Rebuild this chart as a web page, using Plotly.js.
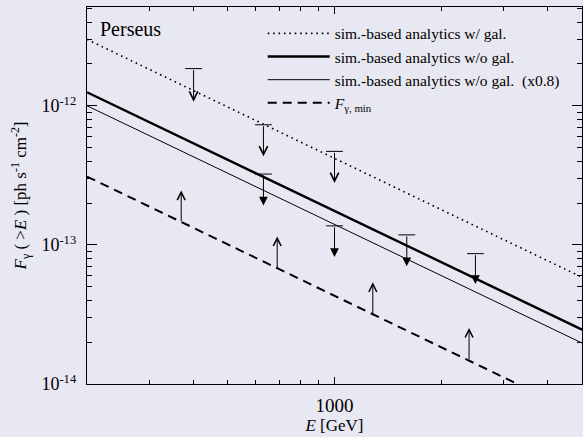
<!DOCTYPE html>
<html><head><meta charset="utf-8">
<script src="https://cdn.plot.ly/plotly-3.0.1.min.js"></script>
<style>html,body{margin:0;padding:0;background:#e8e8f2}</style>
</head><body><div id="chart" style="width:583px;height:437px"></div>
<script>
// ---- data ----
const energyRange = [200, 5000];          // GeV
const fluxLogRange = [-14, -11.29];       // log10 flux
const lineEnergies = [200, 5000];
const fluxWithGal = [3.0e-12, 5.85e-14];
const fluxWithoutGal = [1.25e-12, 2.46e-14];
const fluxWithoutGal08 = [1.0e-12, 1.97e-14];
const fluxMin = [3.10e-13, 5.98e-15];
const seriesNames = [
  'sim.-based analytics w/ gal.',
  'sim.-based analytics w/o gal.',
  'sim.-based analytics w/o gal.  (x0.8)',
  '<i>F</i><sub>γ, min</sub>'
];

const openUpperE = [400, 630, 1000];
const openUpperTop = [1.85e-12, 7.30e-13, 4.70e-13];
const openUpperTip = [1.07e-12, 4.33e-13, 2.79e-13];

const filledUpperE = [630, 1000, 1600, 2500];
const filledUpperTop = [3.23e-13, 1.37e-13, 1.18e-13, 8.65e-14];
const filledUpperTip = [1.92e-13, 8.18e-14, 7.02e-14, 5.24e-14];

const lowerE = [369, 689, 1283, 2399];
const lowerBase = [1.44e-13, 6.64e-14, 3.12e-14, 1.47e-14];
const lowerTip = [2.46e-13, 1.15e-13, 5.38e-14, 2.53e-14];

const yTickVals = [1e-14, 1e-13, 1e-12];
const yTickText = ['10<sup>-14</sup>', '10<sup>-13</sup>', '10<sup>-12</sup>'];
const yMinorVals = [2e-14,3e-14,4e-14,5e-14,6e-14,7e-14,8e-14,9e-14,
                    2e-13,3e-13,4e-13,5e-13,6e-13,7e-13,8e-13,9e-13,
                    2e-12,3e-12,4e-12,5e-12];
const xTickVals = [1000];
const xTickText = ['1000'];
const xMinorVals = [300,400,500,600,700,800,900,2000,3000,4000];

// ---- chart ----
const SERIF = 'Liberation Serif, Times New Roman, serif';
const BG = '#e8e8f2';

const traces = [
  {x: lineEnergies, y: fluxWithGal, name: seriesNames[0], mode: 'lines',
   line: {color: '#000', width: 1.6, dash: '1.6px,3.8px'}},
  {x: lineEnergies, y: fluxWithoutGal, name: seriesNames[1], mode: 'lines',
   line: {color: '#000', width: 2.4}},
  {x: lineEnergies, y: fluxWithoutGal08, name: seriesNames[2], mode: 'lines',
   line: {color: '#000', width: 1}},
  {x: lineEnergies, y: fluxMin, name: seriesNames[3], mode: 'lines',
   line: {color: '#000', width: 2, dash: '9px,6px'}},
  {x: openUpperE.concat(filledUpperE), y: openUpperTop.concat(filledUpperTop),
   mode: 'markers', showlegend: false, hoverinfo: 'skip',
   marker: {symbol: 'line-ew', size: 12, color: '#000', line: {color: '#000', width: 1}}}
];

// limit arrows: drawn by annotation arrows from the limit value to the tip
function arrow(E, from, to, head, size) {
  return {x: Math.log10(E), y: Math.log10(to), ax: Math.log10(E), ay: Math.log10(from),
    xref: 'x', yref: 'y', axref: 'x', ayref: 'y', text: '', showarrow: true,
    arrowhead: head, arrowsize: size, arrowwidth: 1, arrowcolor: '#000',
    standoff: 0, startstandoff: 0};
}
const annotations = [];
openUpperE.forEach((e, i) => annotations.push(arrow(e, openUpperTop[i], openUpperTip[i], 5, 1.65)));
filledUpperE.forEach((e, i) => annotations.push(arrow(e, filledUpperTop[i], filledUpperTip[i], 2, 1.75)));
lowerE.forEach((e, i) => annotations.push(arrow(e, lowerBase[i], lowerTip[i], 5, 1.55)));
annotations.push({xref: 'paper', yref: 'paper', x: 0.022, y: 0.942, xanchor: 'left', yanchor: 'middle',
  text: 'Perseus', showarrow: false, font: {family: SERIF, size: 20, color: '#000'}});

const layout = {
  width: 583, height: 437,
  margin: {l: 87, r: 1, t: 7, b: 53},
  paper_bgcolor: BG, plot_bgcolor: BG,
  showlegend: true,
  legend: {x: 0.355, y: 0.974, xanchor: 'left', yanchor: 'top', bgcolor: 'rgba(0,0,0,0)',
    font: {family: SERIF, size: 15.5, color: '#000'}, itemwidth: 62, tracegroupgap: 0},
  font: {family: SERIF, color: '#000'},
  xaxis: {
    type: 'log', range: energyRange.map(Math.log10),
    showgrid: false, zeroline: false, showline: true, linecolor: '#000', linewidth: 1.2,
    mirror: 'allticks', ticks: 'inside', ticklen: 7, tickwidth: 1, tickcolor: '#000',
    tickmode: 'array', tickvals: xTickVals, ticktext: xTickText, ticklabelstandoff: 4,
    tickfont: {family: SERIF, size: 19, color: '#000'},
    minor: {tickmode: 'array', tickvals: xMinorVals, ticks: 'inside', ticklen: 4, tickwidth: 1, tickcolor: '#000', showgrid: false},
    title: {text: '<i>E</i> [GeV]', font: {family: SERIF, size: 17, color: '#000'}, standoff: 3}
  },
  yaxis: {
    type: 'log', range: fluxLogRange,
    showgrid: false, zeroline: false, showline: true, linecolor: '#000', linewidth: 1.2,
    mirror: 'allticks', ticks: 'inside', ticklen: 10, tickwidth: 1, tickcolor: '#000',
    tickmode: 'array', tickvals: yTickVals, ticktext: yTickText, ticklabelstandoff: 6,
    tickfont: {family: SERIF, size: 18, color: '#000'},
    minor: {tickmode: 'array', tickvals: yMinorVals, ticks: 'inside', ticklen: 5, tickwidth: 1, tickcolor: '#000', showgrid: false},
    title: {text: '<i>F</i><sub>γ</sub> ( &gt;<i>E</i> ) [ph s<sup>-1</sup> cm<sup>-2</sup>]',
      font: {family: SERIF, size: 17, color: '#000'}, standoff: 10}
  },
  annotations: annotations
};

Plotly.newPlot('chart', traces, layout, {staticPlot: true, displayModeBar: false});
</script>
</body></html>
